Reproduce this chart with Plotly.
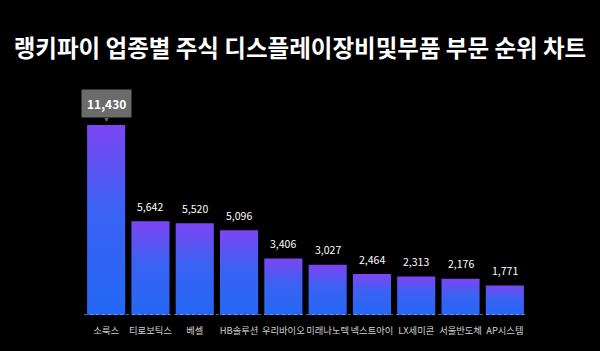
import plotly.graph_objects as go

title = "랭키파이 업종별 주식 디스플레이장비및부품 부문 순위 차트"
categories = ["소룩스", "티로보틱스", "베셀", "HB솔루션", "우리바이오",
              "미래나노텍", "넥스트아이", "LX세미콘", "서울반도체", "AP시스템"]
values = [11430, 5642, 5520, 5096, 3406, 3027, 2464, 2313, 2176, 1771]

BAR_W = 0.86
TOP_C = "#7c45f2"
BOT_C = "#2467f4"
FONT = "Noto Sans CJK KR"

fig = go.Figure()
xs = list(range(len(categories)))
for i, v in zip(xs, values):
    x0, x1 = i - BAR_W / 2, i + BAR_W / 2
    fig.add_trace(go.Scatter(
        x=[x0, x1, x1, x0, x0], y=[0, 0, v, v, 0],
        mode="lines", line=dict(width=0), fill="toself",
        fillgradient=dict(type="vertical",
                          colorscale=[[0, BOT_C], [0.55, "#3a62f3"], [1, TOP_C]]),
        hoverinfo="skip", showlegend=False))

# value labels (all but the highlighted first)
for i, v in zip(xs[1:], values[1:]):
    fig.add_annotation(x=i, y=v, text=f"{v:,}", showarrow=False, yshift=15,
                       font=dict(family=FONT, size=10.5, color="#ffffff"))

# callout for the first bar
fig.add_annotation(
    x=xs[0], y=values[0], text="▼", showarrow=False, yshift=6,
    font=dict(size=7, color="#6b6b6b"))
fig.add_annotation(
    x=xs[0], y=values[0], text=f"<b>{values[0]:,}</b>", showarrow=False,
    yshift=22, font=dict(family=FONT, size=12, color="#ffffff"),
    bgcolor="#6b6b6b", borderpad=5)

# dashed baseline
fig.add_shape(type="line", xref="x", yref="y", x0=-0.5, x1=len(categories) - 0.5,
              y0=0, y1=0, layer="above",
              line=dict(color="#b8c4e0", width=1, dash="dot"))

fig.update_layout(
    width=600, height=351,
    paper_bgcolor="#000000", plot_bgcolor="#000000",
    margin=dict(l=84, r=73, t=99, b=36),
    title=dict(text=f"<b>{title}</b>", x=0.5, xanchor="center", y=0.862, yanchor="middle",
               font=dict(family=FONT, size=23.5, color="#ffffff")),
    xaxis=dict(range=[-0.5, len(categories) - 0.5], tickvals=xs, ticktext=categories,
               tickangle=0, automargin=False, ticklabelstandoff=9,
               showgrid=False, zeroline=False, showline=False, ticks="",
               tickfont=dict(family=FONT, size=9.3, color="#d0d0d0")),
    yaxis=dict(range=[0, 13000], visible=False, showgrid=False, zeroline=False),
)

fig.write_html("out.html")
